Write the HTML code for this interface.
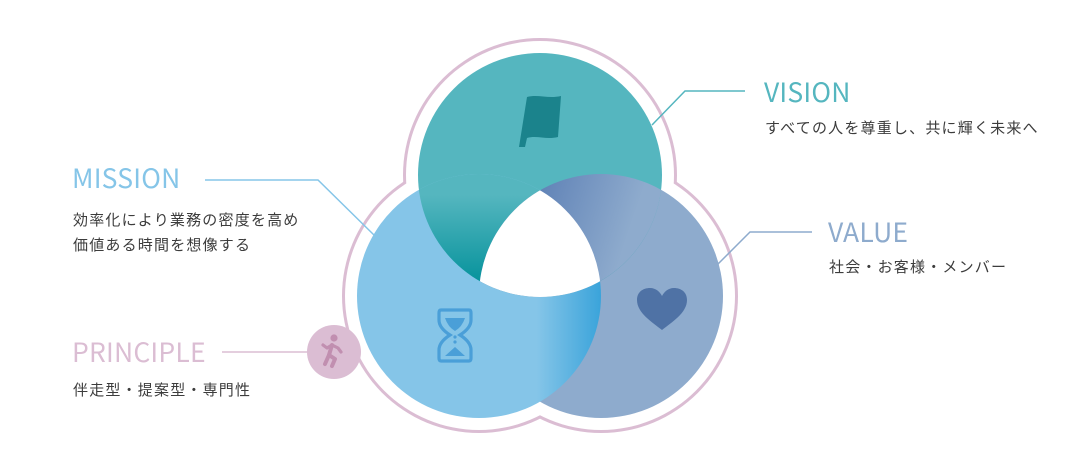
<!DOCTYPE html>
<html><head><meta charset="utf-8"><style>
html,body{margin:0;padding:0;background:#fff;}
body{width:1080px;height:470px;overflow:hidden;}
svg{display:block}
.h{font-family:"Noto Sans CJK JP","Liberation Sans",sans-serif;font-size:26.5px;letter-spacing:0.2px;font-weight:400}
.s{font-family:"Liberation Sans","Noto Sans CJK JP",sans-serif;font-size:15px;fill:#3c3c3c;letter-spacing:1.2px}
</style></head><body>
<svg width="1080" height="470" viewBox="0 0 1080 470" xmlns="http://www.w3.org/2000/svg">
<defs>
  <clipPath id="cT"><circle cx="540" cy="175" r="122"/></clipPath>
  <clipPath id="cL"><circle cx="479" cy="296" r="122"/></clipPath>
  <clipPath id="cR"><circle cx="601" cy="296" r="122"/></clipPath>
  <linearGradient id="gT" x1="0" y1="195" x2="0" y2="285" gradientUnits="userSpaceOnUse">
    <stop offset="0" stop-color="#55b6bf"/><stop offset="1" stop-color="#04929b"/>
  </linearGradient>
  <linearGradient id="gL" x1="537" y1="0" x2="602" y2="0" gradientUnits="userSpaceOnUse">
    <stop offset="0" stop-color="#85c5e8"/><stop offset="1" stop-color="#39a3da"/>
  </linearGradient>
  <linearGradient id="gR" x1="545" y1="185" x2="635" y2="215" gradientUnits="userSpaceOnUse">
    <stop offset="0" stop-color="#6385b8"/><stop offset="1" stop-color="#8eabcd"/>
  </linearGradient>
</defs>
<g fill="#dbbdd3">
  <circle cx="540" cy="175" r="137"/><circle cx="479" cy="296" r="137"/><circle cx="601" cy="296" r="137"/>
</g>
<g fill="#fff">
  <circle cx="540" cy="175" r="134"/><circle cx="479" cy="296" r="134"/><circle cx="601" cy="296" r="134"/>
</g>
<circle cx="601" cy="296" r="122" fill="#8eabcd"/>
<circle cx="540" cy="175" r="122" fill="url(#gT)"/>
<circle cx="479" cy="296" r="122" fill="url(#gL)"/>
<g clip-path="url(#cL)"><circle cx="540" cy="175" r="122" fill="url(#gT)"/></g>
<g clip-path="url(#cT)"><circle cx="601" cy="296" r="122" fill="url(#gR)"/></g>
<g clip-path="url(#cT)"><g clip-path="url(#cL)"><circle cx="601" cy="296" r="122" fill="#fff"/></g></g>
<path d="M527 97 C538 94 548 99 561 96 L558 137 C546 140 537 135 527 138 L525 147 L519 147 Z" fill="#1b838c"/>
<path d="M662 330 C652 322 637 313 637 300 C637 292 643 288 650 288 C656 288 660 292 662 296 C664 292 668 288 674 288 C681 288 687 292 687 300 C687 313 672 322 662 330 Z" fill="#4f72a5"/>
<g fill="none" stroke="#4a9fd8" stroke-width="3.2">
  <path d="M441 310 L469 310 Q471 310 471 313 L471 320 Q471 328 460 335 Q471 342 471 350 L471 358 Q471 361 469 361 L441 361 Q439 361 439 358 L439 350 Q439 342 450 335 Q439 328 439 320 L439 313 Q439 310 441 310 Z"/>
</g>
<path d="M445 318 L465 318 Q462 327 455 331 Q448 327 445 318 Z" fill="#4a9fd8"/>
<path d="M445 356 L465 356 L455 347 Z" fill="#4a9fd8"/>
<circle cx="455" cy="337" r="1.6" fill="#4a9fd8"/><circle cx="455" cy="342" r="1.6" fill="#4a9fd8"/>
<polyline points="652,125 685,91 745,91" fill="none" stroke="#55b6bf" stroke-width="1.5"/>
<polyline points="205,180 318,180 375,236" fill="none" stroke="#85c5e8" stroke-width="1.5"/>
<polyline points="718,264 750,232 812,232" fill="none" stroke="#8eabcd" stroke-width="1.5"/>
<line x1="222" y1="352" x2="310" y2="352" stroke="#dbbdd3" stroke-width="1.5"/>
<circle cx="334" cy="352" r="27" fill="#dbbdd3"/>
<g fill="#c18fb0" stroke="#c18fb0" stroke-linecap="round" stroke-linejoin="round">
  <circle cx="334" cy="338" r="3.6" stroke="none"/>
  <path d="M332 345 L329 355 L335 359 L332 366" fill="none" stroke-width="4"/>
  <path d="M329 355 L325 364" fill="none" stroke-width="4"/>
  <path d="M332 345 L338 348 L341 352" fill="none" stroke-width="3.2"/>
  <path d="M332 345 L327 348 L323 345" fill="none" stroke-width="3.2"/>
</g>
<text x="764" y="102" class="h" fill="#55b6bf">VISION</text>
<text x="765" y="133" class="s">すべての人を尊重し、共に輝く未来へ</text>
<text x="72" y="188" class="h" fill="#85c5e8">MISSION</text>
<text x="73" y="225" class="s">効率化により業務の密度を高め</text>
<text x="73" y="250" class="s">価値ある時間を想像する</text>
<text x="828" y="242" class="h" fill="#8eabcd">VALUE</text>
<text x="829" y="272" class="s">社会・お客様・メンバー</text>
<text x="72" y="362" class="h" fill="#dbbdd3">PRINCIPLE</text>
<text x="73" y="395" class="s">伴走型・提案型・専門性</text>
</svg>
</body></html>
